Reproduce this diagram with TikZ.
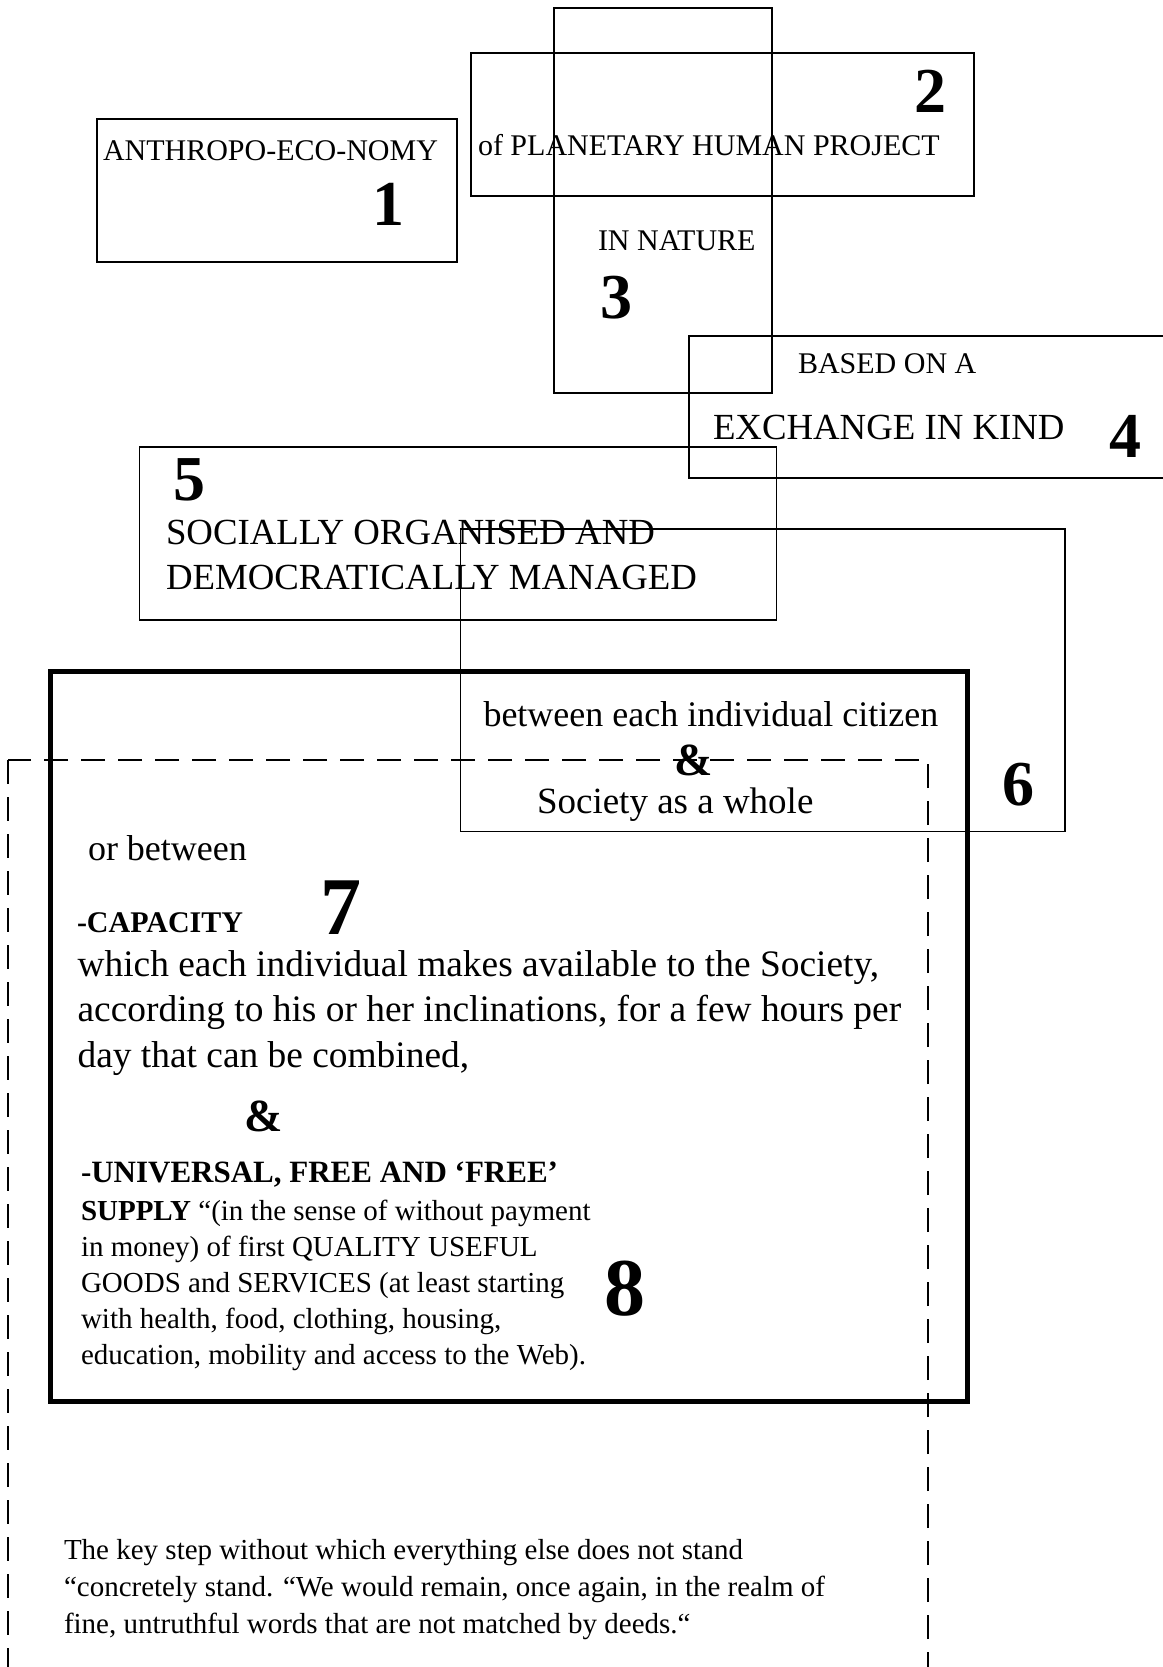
\documentclass[tikz,border=0pt]{standalone}
\usepackage{fontspec}
\setmainfont{Liberation Serif}
\begin{document}
\begin{tikzpicture}[x=0.5pt, y=-0.5pt, line join=miter,
	box/.style={draw, line width=0.6pt},
	thickbox/.style={draw, line width=2.5pt},
	dashbox/.style={draw, line width=1pt, dash pattern=on 12pt off 6.5pt},
	txt/.style={anchor=base west, inner sep=0pt, outer sep=0pt},
	lab/.style={txt, font=\fontsize{15}{18}\selectfont},
	mid/.style={txt, font=\fontsize{18}{21}\selectfont},
	caps/.style={txt, font=\fontsize{18.4}{21}\selectfont},
	body/.style={txt, font=\fontsize{18.7}{22}\selectfont},
	small/.style={txt, font=\fontsize{14.5}{17}\selectfont},
	head/.style={txt, font=\fontsize{15}{18}\selectfont\bfseries},
	amp/.style={txt, font=\fontsize{23}{26}\selectfont\bfseries},
	num/.style={txt, font=\fontsize{32}{36}\selectfont\bfseries},
	bignum/.style={txt, font=\fontsize{41}{46}\selectfont\bfseries}]
	\useasboundingbox (0,0) rectangle (1163,1667);
	% corners of the boxes
	\path
	(97,119) coordinate (B1a)    (457,262) coordinate (B1b)
	(471,53) coordinate (B2a)    (974,196) coordinate (B2b)
	(554,8) coordinate (B3a)     (772,393) coordinate (B3b)
	(689,336) coordinate (B4a)   (1180,478) coordinate (B4b)
	(139.5,447) coordinate (B5a) (776.5,620) coordinate (B5b)
	(460.5,529) coordinate (B6a) (1065,831.5) coordinate (B6b)
	(50,671) coordinate (Ka)     (967,1401) coordinate (Kb)
	(8,760) coordinate (Da)      (928,1720) coordinate (Db);
	\foreach \i in {B1,B2,B3,B4,B5,B6}{\draw[box](\i a) rectangle (\i b);}
	\draw[thickbox] (Ka) rectangle (Kb);
	\draw[dashbox] (Da) rectangle (Db);
	% top boxes
	\node[lab] (anthropo) at (103,160) {ANTHROPO-ECO-NOMY};
	\node[num] (n1) at (372,225) {1};
	\node[lab] (planet) at (478,155) {of PLANETARY HUMAN PROJECT};
	\node[num] (n2) at (914,112) {2};
	\node[lab] (nature) at (598,250) {IN NATURE};
	\node[num] (n3) at (600,318) {3};
	\node[lab] (based) at (798,373) {BASED ON A};
	\node[caps] (exchange) at (713,439) {EXCHANGE IN KIND};
	\node[num] (n4) at (1109,457) {4};
	\node[num] (n5) at (173,500) {5};
	\node[caps] (social) at (166,544) {SOCIALLY ORGANISED AND};
	\node[caps] (democ) at (166,589) {DEMOCRATICALLY MANAGED};
	\node[mid] (citizen) at (483.5,726.7) {between each individual citizen};
	\node[amp, anchor=base] (amp1) at (694,775) {\&};
	\node[mid, font=\fontsize{18.5}{21}\selectfont] (society) at (537,813) {Society as a whole};
	\node[num] (n6) at (1002,805) {6};
	% thick box
	\node[mid] (orbetween) at (88,860) {or between};
	\node[head] (capacity) at (77,932) {-CAPACITY};
	\node[bignum] (n7) at (320,934) {7};
	\foreach \t [count=\i] in {{which each individual makes available to the Society,},
		{according to his or her inclinations, for a few hours per},
		{day that can be combined,}}
	{\node[body] (cap\i) at (77.6,976+45.5*\i-45.5) {\t};}
	\node[amp] (amp2) at (244,1131) {\&};
	\node[head, font=\fontsize{15.5}{18}\selectfont\bfseries] (universal) at (81,1182) {-UNIVERSAL, FREE AND ‘FREE’};
	\foreach \t [count=\i] in {{{\bfseries SUPPLY} “(in the sense of without payment},
		{in money) of first QUALITY USEFUL},
		{GOODS and SERVICES (at least starting},
		{with health, food, clothing, housing,},
		{education, mobility and access to the Web).}}
	{\node[small] (supply\i) at (81,1220+36*\i-36) {\t};}
	\node[bignum] (n8) at (604,1315) {8};
	% key step
	\foreach \t [count=\i] in {{The key step without which everything else does not stand},
		{“concretely stand. “We would remain, once again, in the realm of},
		{fine, untruthful words that are not matched by deeds.“}}
	{\node[small] (key\i) at (64,1559+37*\i-37) {\t};}
\end{tikzpicture}
\end{document}
